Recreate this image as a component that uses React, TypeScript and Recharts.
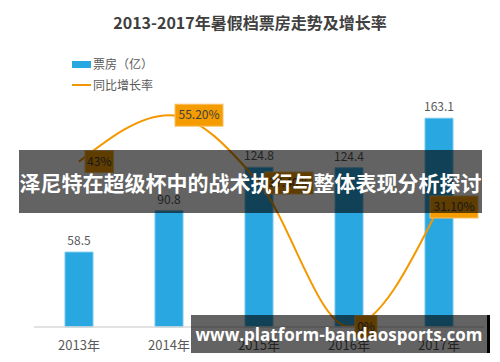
import React from 'react';
import { ComposedChart, Bar, Line, XAxis, YAxis, LabelList } from 'recharts';

const years = ['2013年', '2014年', '2015年', '2016年', '2017年'];
const boxOffice = [58.5, 90.8, 124.8, 124.4, 163.1];
const growth = [43, 55.2, 37.4, -0.3, 31.1];
const growthLabels = ['43%', '55.20%', '37.40%', '0%', '31.10%'];

const title = '2013-2017年暑假档票房走势及增长率';
const legendBar = '票房（亿）';
const legendLine = '同比增长率';
const bannerText = '泽尼特在超级杯中的战术执行与整体表现分析探讨';
const watermarkText = 'www.platform-bandaosports.com';

const data = years.map((y, i) => ({
  year: y,
  boxOffice: boxOffice[i],
  growth: growth[i],
  growthLabel: growthLabels[i],
}));

const FONT = '"Noto Sans CJK SC", "Noto Sans", sans-serif';
const BLUE = '#29A7E1';
const ORANGE = '#F39800';
const TEXT = '#595959';

const renderGrowthLabel = (props: any) => {
  const { x, y, value } = props;
  const s = String(value);
  const w = s.length * 6.5 + 9;
  const h = 22;
  let bx = x + 6;
  if (bx + w > 478) bx = 478 - w;
  const by = y - h / 2;
  return (
    <g>
      <rect x={bx} y={by} width={w} height={h} fill="#F49C00" stroke="#F8C266" strokeWidth={1} />
      <text x={bx + w / 2} y={by + h / 2} dy="0.35em" textAnchor="middle" fontSize={12} fill="#404040" fontFamily={FONT}>
        {s}
      </text>
    </g>
  );
};

export default function App() {
  return (
    <div style={{ position: 'absolute', left: 0, top: 0, width: 500, height: 362, background: '#fff', fontFamily: FONT, overflow: 'hidden' }}>
      <ComposedChart width={500} height={362} data={data} margin={{ top: 71, right: 16, bottom: 5, left: 34 }}>
        <XAxis
          dataKey="year"
          axisLine={{ stroke: '#d9d9d9', strokeWidth: 1.5 }}
          tickLine={false}
          tickSize={0}
          tickMargin={14}
          height={30}
          interval={0}
          tick={{ fill: TEXT, fontSize: 13, fontFamily: FONT }}
        />
        <YAxis yAxisId="left" hide domain={[0, 200]} />
        <YAxis yAxisId="right" hide orientation="right" domain={[-0.4, 66.8]} allowDataOverflow />
        <Bar yAxisId="left" dataKey="boxOffice" barSize={28} fill={BLUE} stroke="#74C8EE" strokeWidth={1} isAnimationActive={false}>
          <LabelList dataKey="boxOffice" position="top" offset={7} fill={TEXT} fontSize={12} fontFamily={FONT} />
        </Bar>
        <Line yAxisId="right" type="monotone" dataKey="growth" stroke={ORANGE} strokeWidth={2} dot={false} isAnimationActive={false}>
          <LabelList dataKey="growthLabel" content={renderGrowthLabel} />
        </Line>
      </ComposedChart>

      <div style={{ position: 'absolute', left: 0, top: 11, width: 500, textAlign: 'center', fontSize: 16, fontWeight: 'bold', color: '#404040', lineHeight: '23px' }}>
        {title}
      </div>

      <div style={{ position: 'absolute', left: 72, top: 55, fontSize: 12, color: TEXT, lineHeight: '18px' }}>
        <div style={{ display: 'flex', alignItems: 'center', height: 18 }}>
          <span style={{ display: 'inline-block', width: 19, height: 7, background: BLUE, marginRight: 2 }} />
          <span>{legendBar}</span>
        </div>
        <div style={{ display: 'flex', alignItems: 'center', height: 18, marginTop: 3 }}>
          <span style={{ display: 'inline-block', width: 19, height: 2, background: ORANGE, marginRight: 2 }} />
          <span>{legendLine}</span>
        </div>
      </div>

      <div style={{ position: 'absolute', left: 19, top: 150, width: 463, height: 63, background: 'rgba(0,0,0,0.61)', color: '#fff', fontSize: 21, fontWeight: 'bold', display: 'flex', alignItems: 'center', justifyContent: 'center', whiteSpace: 'nowrap' }}>
        {bannerText}
      </div>

      <div style={{ position: 'absolute', left: 191, top: 315, width: 296, height: 38, background: 'rgba(0,0,0,0.61)', borderRight: '3px solid #000', color: '#fff', fontSize: 17, fontWeight: 'bold', fontFamily: '"Open Sans", sans-serif', display: 'flex', alignItems: 'center', justifyContent: 'center', whiteSpace: 'nowrap' }}>
        {watermarkText}
      </div>
    </div>
  );
}
